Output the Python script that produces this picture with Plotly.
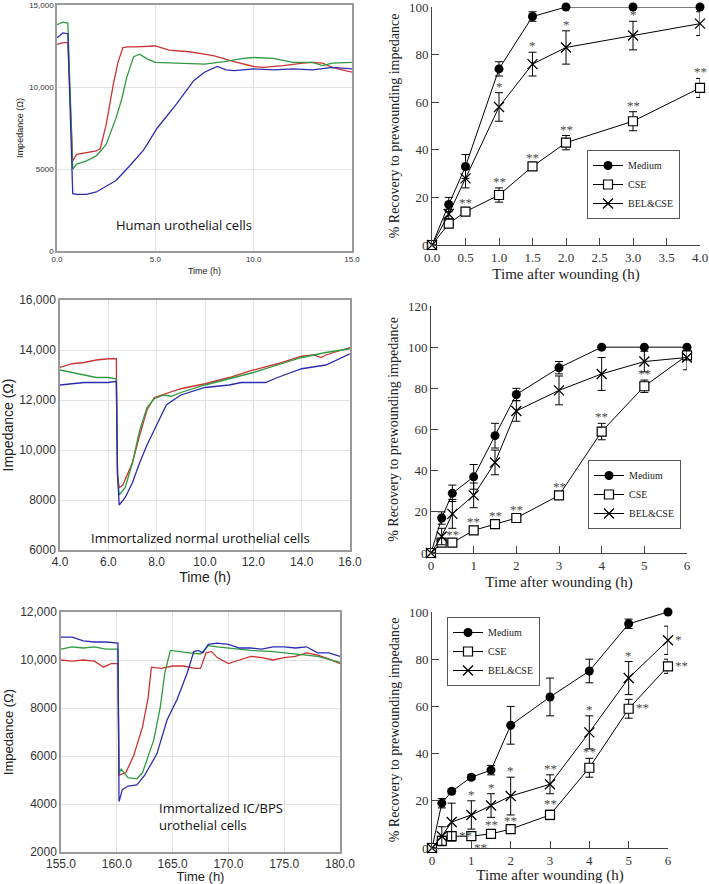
import plotly.graph_objects as go

W, H = 709, 884

# ---------------- Impedance traces (left column) ----------------
# Panel A: Human urothelial cells
a_red_t = [0, 0.3, 0.55, 0.8, 1.0, 1.5, 2.0, 2.2, 2.5, 2.87, 3.1, 3.35, 3.6, 4.0, 5.0, 5.7, 6.7, 7.5, 8.0, 9.0, 10.0, 10.5, 11.5, 12.5, 13.0, 13.5, 14.0, 14.5, 15.0]
a_red_v = [12600, 12700, 12700, 5500, 5900, 6000, 6100, 6250, 7700, 10200, 11500, 12400, 12450, 12450, 12500, 12250, 12150, 12000, 11900, 11550, 11250, 11200, 11300, 11450, 11500, 11450, 11200, 11050, 10900]
a_grn_t = [0, 0.3, 0.55, 0.8, 1.0, 1.5, 2.0, 2.5, 3.0, 3.3, 3.55, 3.9, 4.2, 4.6, 5.0, 6.0, 7.5, 8.5, 9.5, 10.0, 11.0, 12.0, 13.0, 13.5, 14.0, 15.0]
a_grn_v = [13800, 13950, 13900, 5000, 5300, 5500, 5800, 6500, 8100, 9300, 10600, 11850, 12000, 11700, 11500, 11450, 11400, 11550, 11750, 11800, 11750, 11500, 11500, 11300, 11450, 11500]
a_blu_t = [0, 0.3, 0.55, 0.8, 1.0, 1.5, 2.0, 3.0, 3.7, 4.4, 5.1, 6.1, 6.96, 7.5, 8.15, 8.6, 9.0, 10.0, 11.0, 12.0, 13.0, 14.0, 15.0]
a_blu_v = [13000, 13300, 13250, 3500, 3450, 3450, 3600, 4300, 5200, 6150, 7500, 9000, 10400, 10900, 11250, 11050, 11000, 11100, 11050, 11100, 11050, 11200, 11100]

# Panel B: Immortalized normal urothelial cells
b_red_t = [4.0, 4.5, 5.0, 5.5, 6.0, 6.33, 6.38, 6.45, 6.6, 7.0, 7.3, 7.6, 7.9, 8.5, 9.0, 10.0, 11.0, 12.0, 13.0, 14.0, 14.5, 14.8, 15.0, 15.5, 16.0]
b_red_v = [13300, 13450, 13500, 13600, 13650, 13650, 9000, 8500, 8600, 9500, 10600, 11600, 12100, 12300, 12450, 12650, 12900, 13200, 13450, 13750, 13800, 13700, 13800, 13950, 14100]
b_grn_t = [4.0, 4.5, 5.0, 5.5, 6.0, 6.33, 6.38, 6.45, 6.7, 7.0, 7.3, 7.6, 7.9, 8.3, 8.6, 9.0, 10.0, 11.0, 12.0, 13.0, 14.0, 15.0, 16.0]
b_grn_v = [13200, 13100, 13000, 12900, 12900, 12850, 9000, 8200, 8500, 9500, 10800, 11700, 12050, 12200, 12150, 12300, 12600, 12850, 13100, 13400, 13700, 13900, 14050]
b_blu_t = [4.0, 4.5, 5.0, 6.0, 6.33, 6.38, 6.45, 6.7, 7.0, 7.3, 7.6, 8.0, 8.4, 9.0, 10.0, 11.0, 11.5, 12.5, 13.0, 14.0, 15.0, 16.0]
b_blu_v = [12600, 12650, 12700, 12700, 12750, 9000, 7800, 8100, 8700, 9500, 10200, 11000, 11800, 12200, 12500, 12600, 12700, 12700, 12900, 13250, 13400, 13850]

# Panel C: Immortalized IC/BPS urothelial cells
c_red_t = [155, 156, 157, 158, 158.8, 159.5, 160.1, 160.2, 160.8, 161.5, 162.3, 162.8, 163.1, 164, 165, 166, 167, 167.5, 168, 168.5, 169, 170, 171, 172, 173, 174, 175, 176, 177, 178, 179, 180]
c_red_v = [10000, 9950, 10000, 9950, 9700, 9850, 9850, 5200, 5300, 6000, 7200, 8400, 9700, 9650, 9750, 9750, 9650, 9650, 10300, 10350, 10100, 9850, 10000, 10150, 10100, 10000, 10100, 10150, 10300, 10200, 10050, 9850]
c_grn_t = [155, 156, 157, 158, 159, 160.1, 160.2, 160.4, 161, 161.8, 162.3, 163.3, 163.9, 164.3, 164.8, 165.5, 166.5, 167.5, 168.2, 169, 170, 172, 174, 176, 178, 180]
c_grn_v = [10450, 10550, 10500, 10550, 10450, 10450, 5300, 5450, 5100, 5050, 5300, 6650, 8050, 9450, 10400, 10350, 10300, 10250, 10600, 10550, 10500, 10400, 10350, 10250, 10150, 9900]
c_blu_t = [155, 156, 157, 158, 159, 160.1, 160.2, 160.5, 161, 161.8, 162.5, 163.6, 164.5, 165.4, 166.3, 166.9, 167.3, 167.7, 168.2, 169, 170, 171, 172, 173, 174, 175, 176, 177, 178, 179, 180]
c_blu_v = [10950, 10950, 10800, 10750, 10750, 10700, 4100, 4600, 4750, 4800, 5200, 6100, 7500, 8350, 9450, 10350, 10400, 10300, 10650, 10700, 10650, 10500, 10500, 10450, 10550, 10550, 10500, 10550, 10300, 10300, 10150]

# ---------------- Recovery curves (right column) ----------------
series_names = ["Medium", "CSE", "BEL&CSE"]

d_x = [0, 0.25, 0.5, 1.0, 1.5, 2.0, 3.0, 4.0]
d_med = [0, 17, 33, 74, 96, 100, 100, 100]
d_med_err = [0, 3, 5, 3, 2, 0, 0, 0]
d_cse = [0, 9, 14, 21, 33, 43, 52, 66]
d_cse_err = [0, 1, 1, 3, 1, 3, 4, 4]
d_bel = [0, 13, 28, 58, 76, 83, 88, 93]
d_bel_err = [0, 2, 4, 6, 5, 7, 6, 5]
d_cse_sig = ["", "", "**", "**", "**", "**", "**", "**"]
d_bel_sig = ["", "", "", "*", "*", "*", "*", ""]

e_x = [0, 0.25, 0.5, 1, 1.5, 2, 3, 4, 5, 6]
e_med = [0, 17, 29, 37, 57, 77, 90, 100, 100, 100]
e_med_err = [0, 3, 4, 6, 6, 3, 3, 0, 0, 0]
e_cse = [0, 5, 5, 11, 14, 17, 28, 59, 81, 96]
e_cse_err = [0, 1, 1, 1, 1, 1, 1, 4, 3, 2]
e_bel = [0, 8, 19, 28, 44, 69, 79, 87, 93, 95]
e_bel_err = [0, 4, 7, 6, 6, 5, 7, 8, 5, 6]
e_cse_sig = ["", "", "**", "**", "**", "**", "**", "**", "**", ""]
e_bel_sig = ["", "", "", "", "", "", "", "", "", ""]

f_x = [0, 0.25, 0.5, 1, 1.5, 2, 3, 4, 5, 6]
f_med = [0, 19, 24, 30, 33, 52, 64, 75, 95, 100]
f_med_err = [0, 2, 1, 1, 2, 8, 8, 5, 2, 0]
f_cse = [0, 3, 5, 5, 6, 8, 14, 34, 59, 77]
f_cse_err = [0, 2, 2, 1, 1, 1, 2, 4, 4, 3]
f_bel = [0, 5, 11, 14, 18, 22, 27, 49, 72, 88]
f_bel_err = [0, 4, 8, 6, 5, 8, 4, 7, 7, 6]
f_cse_sig = ["", "", "**", "**", "**", "**", "**", "**", "**", "**"]
f_cse_pos = ["", "", "r", "br", "a", "a", "a", "a", "r", "r"]
f_bel_sig = ["", "", "", "*", "*", "*", "**", "*", "*", "*"]
f_bel_pos = ["", "", "", "a", "a", "a", "a", "a", "a", "r"]

# ---------------- styling ----------------
RED, GRN, BLU = "#cc3333", "#2f9a3f", "#2c2cb0"
SERIF = "Liberation Serif, Times New Roman, serif"
SANS = "Liberation Sans, Arial, sans-serif"
LABEL_FONT = "Open Sans, Noto Sans, sans-serif"
SIG_COLOR = "#4a4a4a"


def dx(a, b):
    return [a / W, b / W]


def dy(top, bottom):
    return [1 - bottom / H, 1 - top / H]


fig = go.Figure()

# ---- left panels ----
left_panels = [
    ("x", "y", [(a_red_t, a_red_v, RED), (a_grn_t, a_grn_v, GRN), (a_blu_t, a_blu_v, BLU)]),
    ("x3", "y3", [(b_red_t, b_red_v, RED), (b_grn_t, b_grn_v, GRN), (b_blu_t, b_blu_v, BLU)]),
    ("x5", "y5", [(c_red_t, c_red_v, RED), (c_grn_t, c_grn_v, GRN), (c_blu_t, c_blu_v, BLU)]),
]
for xa, ya, curves in left_panels:
    for t, v, col in curves:
        fig.add_trace(go.Scatter(x=t, y=v, mode="lines", line=dict(color=col, width=1.3),
                                 xaxis=xa, yaxis=ya, showlegend=False, hoverinfo="skip"))

# ---- right panels ----
right_panels = [
    ("x2", "y2", "legend", d_x, [(d_med, d_med_err), (d_cse, d_cse_err), (d_bel, d_bel_err)]),
    ("x4", "y4", "legend2", e_x, [(e_med, e_med_err), (e_cse, e_cse_err), (e_bel, e_bel_err)]),
    ("x6", "y6", "legend3", f_x, [(f_med, f_med_err), (f_cse, f_cse_err), (f_bel, f_bel_err)]),
]
markers = [
    dict(symbol="circle", size=9, color="black", line=dict(width=0)),
    dict(symbol="square", size=9, color="white", line=dict(color="black", width=1.2)),
    dict(symbol="x-thin", size=10, color="black", line=dict(color="black", width=1.3)),
]
for xa, ya, lg, xs, sets in right_panels:
    for name, (vals, errs), mk in zip(series_names, sets, markers):
        fig.add_trace(go.Scatter(
            x=xs, y=vals, name=name, mode="lines+markers",
            line=dict(color="black", width=1), marker=mk,
            error_y=dict(type="data", array=errs, visible=True, color="black", thickness=1, width=4),
            xaxis=xa, yaxis=ya, legend=lg, cliponaxis=False, hoverinfo="skip"))

# ---- significance marks ----
annotations = []


def add_sig(xa, ya, xs, vals, errs, sigs, poss=None):
    for i, s in enumerate(sigs):
        if not s:
            continue
        p = poss[i] if poss else "a"
        f = dict(family=SERIF, size=13, color=SIG_COLOR)
        if p == "a":
            annotations.append(dict(x=xs[i], y=vals[i] + errs[i], xref=xa, yref=ya, text=s,
                                    showarrow=False, yanchor="bottom", xanchor="center", yshift=-3, font=f))
        elif p == "r":
            annotations.append(dict(x=xs[i], y=vals[i], xref=xa, yref=ya, text=s,
                                    showarrow=False, yanchor="middle", xanchor="left", xshift=5, yshift=1, font=f))
        elif p == "br":
            annotations.append(dict(x=xs[i], y=vals[i], xref=xa, yref=ya, text=s,
                                    showarrow=False, yanchor="top", xanchor="left", xshift=1, yshift=-2, font=f))


add_sig("x2", "y2", d_x, d_cse, d_cse_err, d_cse_sig)
add_sig("x2", "y2", d_x, d_bel, d_bel_err, d_bel_sig)
add_sig("x4", "y4", e_x, e_cse, e_cse_err, e_cse_sig)
add_sig("x4", "y4", e_x, e_bel, e_bel_err, e_bel_sig)
add_sig("x6", "y6", f_x, f_cse, f_cse_err, f_cse_sig, f_cse_pos)
add_sig("x6", "y6", f_x, f_bel, f_bel_err, f_bel_sig, f_bel_pos)

# ---- cell labels ----
annotations.append(dict(x=6.45, y=900, xref="x", yref="y", text="Human urothelial cells", showarrow=False,
                        yanchor="bottom", font=dict(family=LABEL_FONT, size=13, color="#111")))
annotations.append(dict(x=9.8, y=6050, xref="x3", yref="y3", text="Immortalized normal urothelial cells",
                        showarrow=False, yanchor="bottom", font=dict(family=LABEL_FONT, size=13, color="#111")))
annotations.append(dict(x=163.6, y=2650, xref="x5", yref="y5",
                        text="Immortalized IC/BPS<br>urothelial cells", showarrow=False, align="left",
                        xanchor="left", yanchor="bottom", font=dict(family=LABEL_FONT, size=13, color="#111")))


def left_x(dom, rng, vals, txt, fs, title_fs, standoff):
    return dict(domain=dom, range=rng, tickvals=vals, ticktext=txt, showgrid=True, gridcolor="#e2e2e2",
                showline=True, mirror=True, linecolor="#9a9a9a", linewidth=1.5, ticks="", zeroline=False,
                automargin=False, ticklabeloverflow="allow", tickfont=dict(family=SANS, size=fs, color="#333"),
                title=dict(text="Time (h)", font=dict(family=SANS, size=title_fs, color="#222"), standoff=standoff))


def left_y(dom, rng, vals, txt, fs, title_fs, standoff):
    return dict(domain=dom, range=rng, tickvals=vals, ticktext=txt, showgrid=True, gridcolor="#e2e2e2",
                showline=True, mirror=True, linecolor="#9a9a9a", linewidth=1.5, ticks="", zeroline=False,
                automargin=False, ticklabeloverflow="allow", tickfont=dict(family=SANS, size=fs, color="#333"),
                title=dict(text="Impedance (Ω)", font=dict(family=SANS, size=title_fs, color="#222"), standoff=standoff))


def right_x(dom, rng, dtick, fmt):
    return dict(domain=dom, range=rng, dtick=dtick, tick0=0, tickformat=fmt, showgrid=False, zeroline=False,
                showline=True, linecolor="#444", linewidth=1, ticks="inside", ticklen=7, tickcolor="#444",
                automargin=False, ticklabeloverflow="allow", tickfont=dict(family=SERIF, size=13, color="#333"),
                title=dict(text="Time after wounding (h)", font=dict(family=SERIF, size=15, color="#222"), standoff=4))


def right_y(dom, rng):
    return dict(domain=dom, range=rng, dtick=20, showgrid=False, zeroline=False,
                showline=True, linecolor="#444", linewidth=1, ticks="inside", ticklen=7, tickcolor="#444",
                automargin=False, ticklabeloverflow="allow", tickfont=dict(family=SERIF, size=13, color="#333"),
                title=dict(text="% Recovery to prewounding impedance", font=dict(family=SERIF, size=14, color="#222"),
                           standoff=6))


legend_style = dict(bgcolor="white", bordercolor="#555", borderwidth=1,
                    font=dict(family=SERIF, size=10, color="#222"), xanchor="left", yanchor="top",
                    tracegroupgap=0, itemwidth=30)

fig.update_layout(
    width=W, height=H, margin=dict(l=0, r=0, t=0, b=0, autoexpand=False),
    paper_bgcolor="white", plot_bgcolor="white",
    xaxis=left_x(dx(57, 352), [0, 15], [0, 5, 10, 15], ["0.0", "5.0", "10.0", "15.0"], 8, 9, 4),
    yaxis=left_y(dy(5, 251), [0, 15000], [0, 5000, 10000, 15000], ["0", "5000", "10,000", "15,000"], 8, 9, 4),
    xaxis3=left_x(dx(60, 350), [4, 16], [4, 6, 8, 10, 12, 14, 16],
                  ["4.0", "6.0", "8.0", "10.0", "12.0", "14.0", "16.0"], 12, 14, 2),
    yaxis3=left_y(dy(300, 550), [6000, 16000], [6000, 8000, 10000, 12000, 14000, 16000],
                  ["6000", "8000", "10,000", "12,000", "14,000", "16,000"], 12, 14, 4),
    xaxis5=left_x(dx(61, 340), [155, 180], [155, 160, 165, 170, 175, 180],
                  ["155.0", "160.0", "165.0", "170.0", "175.0", "180.0"], 12, 13, 0),
    yaxis5=left_y(dy(612, 852), [2000, 12000], [2000, 4000, 6000, 8000, 10000, 12000],
                  ["2000", "4000", "6000", "8000", "10,000", "12,000"], 12, 13, 4),
    xaxis2=right_x(dx(432, 700), [0, 4], 0.5, ".1f"),
    yaxis2=right_y(dy(7, 245), [0, 100]),
    xaxis4=right_x(dx(431, 687), [0, 6], 1, "d"),
    yaxis4=right_y(dy(306, 553), [0, 120]),
    xaxis6=right_x(dx(432, 668), [0, 6], 1, "d"),
    yaxis6=right_y(dy(612, 848), [0, 100]),
    legend=dict(x=587 / W, y=1 - 150 / H, **legend_style),
    legend2=dict(x=588 / W, y=1 - 460 / H, **legend_style),
    legend3=dict(x=447 / W, y=1 - 617 / H, **legend_style),
    annotations=annotations,
)

for i in range(1, 7):
    key = "xaxis" if i == 1 else f"xaxis{i}"
    fig.layout[key].anchor = "y" if i == 1 else f"y{i}"
    key = "yaxis" if i == 1 else f"yaxis{i}"
    fig.layout[key].anchor = "x" if i == 1 else f"x{i}"

fig.write_html("out.html", config={"displayModeBar": False},
               post_script="document.body.style.margin='0';document.body.style.overflow='hidden';")
